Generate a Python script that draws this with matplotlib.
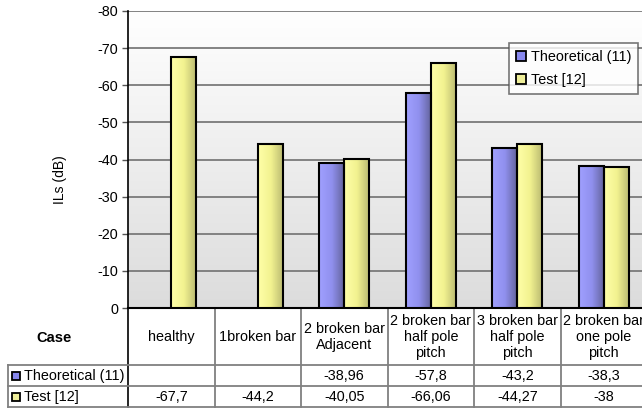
import numpy as np
import matplotlib
matplotlib.use("Agg")
import matplotlib.pyplot as plt
import matplotlib.transforms as mtransforms
from matplotlib.colors import LinearSegmentedColormap
from matplotlib.patches import Patch, Rectangle

plt.rcParams['font.family'] = ['Liberation Sans', 'DejaVu Sans']
plt.rcParams['font.size'] = 10

# data
cases = ["healthy", "1broken bar", "2 broken bar\nAdjacent", "2 broken bar\nhalf pole\npitch",
         "3 broken bar\nhalf pole\npitch", "2 broken bar\none pole\npitch"]
theoretical = [np.nan, np.nan, -38.96, -57.8, -43.2, -38.3]
test = [-67.7, -44.2, -40.05, -66.06, -44.27, -38]
theo_labels = ["", "", "-38,96", "-57,8", "-43,2", "-38,3"]
test_labels = ["-67,7", "-44,2", "-40,05", "-66,06", "-44,27", "-38"]
series_names = ["Theoretical (11)", "Test [12]"]
yticks = [0, -10, -20, -30, -40, -50, -60, -70, -80]

W, H = 642, 408
fig = plt.figure(figsize=(W / 100, H / 100), dpi=100)

def fx(px):
    return px / W

def fy(py):
    return 1 - py / H

left, right, top, bottom = 128, 647, 11, 308
ax = fig.add_axes([fx(left), fy(bottom), fx(right - left), (bottom - top) / H])

n = len(cases)
x = np.arange(n) + 0.5
bw = 0.29
fs = 10.4

# plot area background gradient, white at the top
bg = np.linspace(0, 1, 256).reshape(-1, 1)
bg_cmap = LinearSegmentedColormap.from_list("bg", ["#ffffff", "#dcdcdc"])
ax.imshow(bg, cmap=bg_cmap, extent=[0, n, 0, -80], aspect="auto", zorder=0,
          origin="upper")

blue_cmap = LinearSegmentedColormap.from_list("b", ["#a0a0ff", "#9090ee", "#626299"])
yel_cmap = LinearSegmentedColormap.from_list("y", ["#ffffa8", "#f2f290", "#b8b870"])
grad = np.linspace(0, 1, 64).reshape(1, -1)

for offs, vals, cmap in [(-bw / 2, theoretical, blue_cmap), (bw / 2, test, yel_cmap)]:
    bars = ax.bar(x + offs, vals, width=bw, facecolor="none", edgecolor="black",
                  linewidth=1.5, zorder=4)
    for b in bars:
        h = b.get_height()
        if np.isnan(h):
            continue
        x0 = b.get_x()
        im = ax.imshow(grad, cmap=cmap, extent=[x0, x0 + b.get_width(), 0, h],
                       aspect="auto", zorder=3)
        im.set_clip_path(b)

ax.set_xlim(0, n)
ax.set_ylim(0, -80)
ax.set_yticks(yticks)
ax.set_yticklabels([str(t) for t in yticks])
ax.set_xticks([])
ax.yaxis.grid(True, color="#7a7a7a", linewidth=1.3, zorder=1)
ax.set_axisbelow(True)
ax.tick_params(axis="y", direction="out", length=4, width=1, color="#555555", pad=3,
               labelsize=fs)
for s in ["top", "right"]:
    ax.spines[s].set_visible(False)
ax.spines["left"].set_linewidth(1.2)
ax.spines["bottom"].set_linewidth(1.5)

fig.text(fx(60), fy(180), "ILs (dB)", rotation=90, ha="center", va="center", fontsize=10)

# data table under the axis
tr = mtransforms.blended_transform_factory(ax.transData, fig.transFigure)
row_y = [bottom, 365, 386, 407]
gray = "#808080"
for i in range(1, n + 1):
    ax.plot([i, i], [fy(row_y[0]), fy(row_y[-1])], transform=tr, color=gray,
            lw=1.3, clip_on=False)
ax.plot([0, 0], [fy(row_y[0]), fy(row_y[-1])], transform=tr, color="black",
        lw=1.2, clip_on=False)
for ry in row_y[1:]:
    fig.add_artist(plt.Line2D([fx(8), fx(right)], [fy(ry), fy(ry)], color=gray, lw=1.3))
fig.add_artist(plt.Line2D([fx(8), fx(8)], [fy(365), fy(407)], color=gray, lw=1.3))

for i, c in enumerate(cases):
    ax.text(x[i], fy(337), c, transform=tr, ha="center", va="center",
            fontsize=fs, linespacing=1.2, clip_on=False)
    ax.text(x[i], fy(376), theo_labels[i], transform=tr, ha="center", va="center",
            fontsize=fs, clip_on=False)
    ax.text(x[i], fy(397), test_labels[i], transform=tr, ha="center", va="center",
            fontsize=fs, clip_on=False)

fig.text(fx(54), fy(338), "Case", ha="center", va="center", fontsize=10.5,
         fontweight="bold")
for ry, name, fc in [(376, series_names[0], "#8888ee"), (397, series_names[1], "#eeee99")]:
    fig.add_artist(Rectangle((fx(12), fy(ry + 4)), fx(8), 8 / H, facecolor=fc,
                             edgecolor="black", lw=1.3, transform=fig.transFigure))
    fig.text(fx(24), fy(ry), name, ha="left", va="center", fontsize=fs)

handles = [Patch(facecolor="#8888ee", edgecolor="black", lw=1.3),
           Patch(facecolor="#eeee99", edgecolor="black", lw=1.3)]
leg = fig.legend(handles, series_names, loc="upper left",
                 bbox_to_anchor=(fx(509), fy(43)), fontsize=fs, frameon=True,
                 fancybox=False, handlelength=0.7, handleheight=0.7,
                 handletextpad=0.3, labelspacing=0.6, borderpad=0.5,
                 borderaxespad=0)
leg.get_frame().set_edgecolor("#555555")
leg.get_frame().set_linewidth(1.2)

fig.savefig("out.png", dpi=100)
